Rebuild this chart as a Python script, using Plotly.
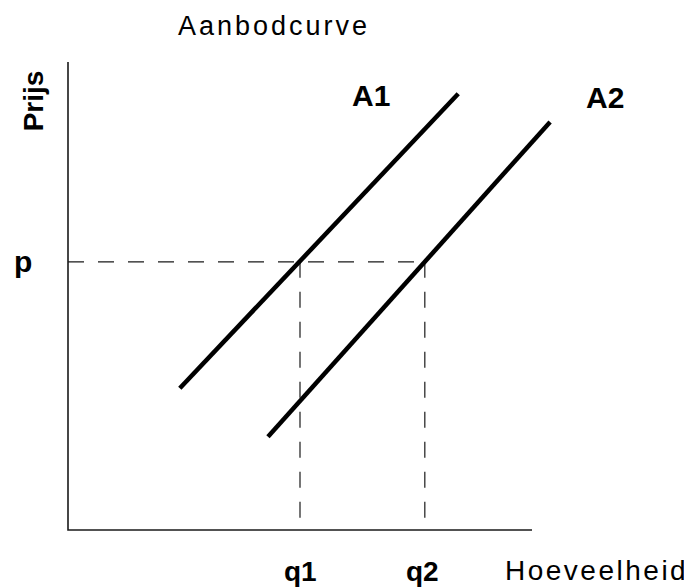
import plotly.graph_objects as go

# ---- data (abstract quantity / price units) ----
axis_max_q = 10.0
axis_max_p = 10.0
A1_q = [2.41, 8.41]
A1_p = [3.03, 9.32]
A2_q = [4.31, 10.39]
A2_p = [1.99, 8.72]
price_p = 5.73
q1 = 5.0
q2 = 7.69

title_text = "Aanbodcurve"
y_label = "Prijs"
x_label = "Hoeveelheid"
curve_labels = ["A1", "A2"]
tick_labels = ["p", "q1", "q2"]

FONT = "Liberation Sans, Arial, sans-serif"
INK = "#1a1a1a"

fig = go.Figure()

# axes
fig.add_trace(go.Scatter(x=[0, 0, axis_max_q], y=[axis_max_p, 0, 0], mode="lines",
                         line=dict(color=INK, width=1.6), hoverinfo="skip"))

# dashed guide lines
dash = "16px,14px"
fig.add_trace(go.Scatter(x=[0, q2], y=[price_p, price_p], mode="lines",
                         line=dict(color=INK, width=1.2, dash=dash), hoverinfo="skip"))
fig.add_trace(go.Scatter(x=[q1, q1], y=[price_p, 0], mode="lines",
                         line=dict(color=INK, width=1.2, dash=dash), hoverinfo="skip"))
fig.add_trace(go.Scatter(x=[q2, q2], y=[price_p, 0], mode="lines",
                         line=dict(color=INK, width=1.2, dash=dash), hoverinfo="skip"))

# supply curves
fig.add_trace(go.Scatter(x=A1_q, y=A1_p, mode="lines",
                         line=dict(color="black", width=4.5), hoverinfo="skip"))
fig.add_trace(go.Scatter(x=A2_q, y=A2_p, mode="lines",
                         line=dict(color="black", width=4.5), hoverinfo="skip"))

ann = []
def lab(text, x, y, size, bold=True, angle=0, spacing=None):
    t = text
    if spacing:
        t = f'<span style="letter-spacing:{spacing}px">{t}</span>'
    if bold:
        t = f"<b>{t}</b>"
    ann.append(dict(text=t, x=x, y=y, xref="x", yref="y", showarrow=False,
                    textangle=angle, font=dict(family=FONT, size=size, color="black"),
                    xanchor="center", yanchor="middle"))

lab(title_text, 4.43, 10.78, 27, bold=False, spacing=3)
lab(y_label, -0.744, 9.17, 28, angle=-90)
lab(x_label, 11.39, -0.87, 28, bold=False, spacing=2.5)
lab(curve_labels[0], 6.53, 9.29, 30)
lab(curve_labels[1], 11.57, 9.25, 30)
lab(tick_labels[0], -0.98, price_p, 30)
lab(tick_labels[1], q1, -0.89, 28)
lab(tick_labels[2], q2 - 0.06, -0.89, 28)

# the page adds an 8px body margin, so the figure is 8px smaller and
# its axis ranges start 8px further in
fig.update_layout(
    width=684, height=580, autosize=False,
    margin=dict(l=0, r=0, t=0, b=0),
    paper_bgcolor="white", plot_bgcolor="white",
    showlegend=False,
    xaxis=dict(range=[(8 - 68) / 46.4, (692 - 68) / 46.4], visible=False, fixedrange=True),
    yaxis=dict(range=[(530 - 588) / 46.8, (530 - 8) / 46.8], visible=False, fixedrange=True),
    annotations=ann,
)

fig.write_html("out.html", config={"displayModeBar": False})
